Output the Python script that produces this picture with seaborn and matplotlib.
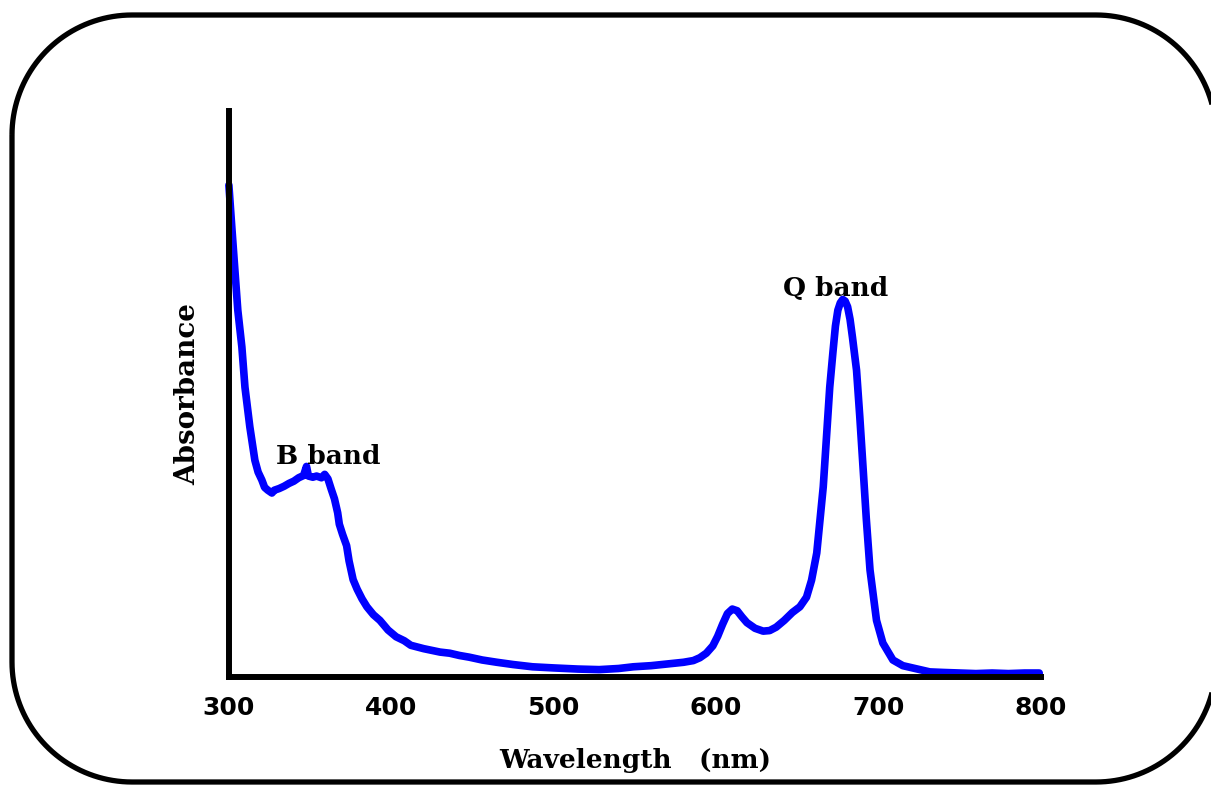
import numpy as np
import seaborn as sns
import matplotlib.pyplot as plt
from matplotlib.ticker import MultipleLocator

# UV-vis spectrum (wavelength in nm, absorbance in arb. units)
wavelength = [300, 301.8, 303.7, 305.5, 308, 309.9, 312.9, 316, 318, 320.3, 322, 324, 326.5,
              328, 331, 334, 337, 340, 343, 346, 347.8, 349, 351.7, 354, 357, 359, 361, 363,
              365, 367, 368, 370, 372.5, 374, 376.5, 379, 382, 385, 389, 393, 398, 403, 408,
              412, 416, 420, 425, 430, 436, 442, 448, 456, 465, 475, 487, 500, 515, 528, 540,
              549, 560, 570, 580, 586, 590, 594, 598, 601, 604, 607, 610, 613, 616, 619, 624,
              629, 633, 637, 642, 647, 651.6, 655.7, 658.8, 662, 666, 668, 670, 672, 673.5,
              675, 676.5, 678, 679.5, 681, 682.5, 684, 686.5, 688.5, 690.6, 692.5, 694.8,
              698.8, 702.7, 708.9, 715, 721, 731.6, 740, 750, 760, 770, 780, 790, 799]
absorbance = [0.869, 0.795, 0.719, 0.648, 0.583, 0.512, 0.442, 0.383, 0.362, 0.348, 0.335,
              0.330, 0.325, 0.330, 0.333, 0.337, 0.342, 0.346, 0.352, 0.356, 0.372, 0.355,
              0.353, 0.355, 0.352, 0.358, 0.350, 0.332, 0.315, 0.290, 0.270, 0.252, 0.232,
              0.205, 0.172, 0.155, 0.138, 0.124, 0.110, 0.100, 0.083, 0.071, 0.064, 0.056,
              0.053, 0.050, 0.047, 0.044, 0.042, 0.038, 0.035, 0.030, 0.026, 0.022, 0.018,
              0.016, 0.014, 0.013, 0.015, 0.018, 0.020, 0.023, 0.026, 0.029, 0.034, 0.042,
              0.055, 0.072, 0.093, 0.112, 0.120, 0.117, 0.106, 0.096, 0.086, 0.081, 0.082,
              0.088, 0.100, 0.114, 0.124, 0.141, 0.171, 0.219, 0.336, 0.424, 0.512, 0.575,
              0.620, 0.648, 0.661, 0.667, 0.664, 0.654, 0.632, 0.600, 0.542, 0.460, 0.366,
              0.280, 0.189, 0.100, 0.060, 0.030, 0.020, 0.016, 0.009, 0.008, 0.007, 0.006,
              0.007, 0.006, 0.007, 0.007]

x_ticks = [300, 400, 500, 600, 700, 800]
band_labels = ["B band", "Q band"]
band_pos = [(329, 0.39), (641, 0.686)]

sns.set_style("white")
plt.rcParams["font.family"] = ["DejaVu Serif"]
plt.rcParams["text.color"] = "black"
plt.rcParams["axes.labelcolor"] = "black"
plt.rcParams["xtick.color"] = "black"
plt.rcParams["savefig.bbox"] = "standard"

fig = plt.figure(figsize=(12.11, 7.85), dpi=100)

# background axes in pixel units for the rounded frame (right edge runs off the image)
bg = fig.add_axes([0, 0, 1, 1], zorder=-1)
bg.set_xlim(0, 1211)
bg.set_ylim(785, 0)
bg.axis("off")
x0, y0, x1, y1, r = 12, 15, 1216, 782, 120
t = np.linspace(0, np.pi / 2, 40)
# only the visible pieces: top edge + both right corners, bottom edge, left edge
top_x = np.concatenate([x0 + r - r * np.cos(t), x1 - r + r * np.sin(t)])
top_y = np.concatenate([y0 + r - r * np.sin(t), y0 + r - r * np.cos(t)])
bot_x = np.concatenate([x1 - r + r * np.cos(t), x0 + r - r * np.sin(t), [x0]])
bot_y = np.concatenate([y1 - r + r * np.sin(t), y1 - r + r * np.cos(t), [y0 + r]])
keep_top = top_x <= 1213
keep_bot = bot_x <= 1213
bg.plot(top_x[keep_top], top_y[keep_top], color="black", linewidth=3.8,
        solid_capstyle="butt")
bg.plot(bot_x[keep_bot], bot_y[keep_bot], color="black", linewidth=3.8,
        solid_capstyle="butt")

ax = fig.add_axes([0.189, 0.1376, 0.6705, 0.721])
ax.patch.set_alpha(0)

sns.lineplot(x=wavelength, y=absorbance, color="#0000ff", linewidth=5.5, ax=ax,
             solid_capstyle="round", solid_joinstyle="round", clip_on=False)

ax.set_xlim(300, 800)
ax.set_ylim(0, 1.0)
ax.set_xticks(x_ticks)
ax.xaxis.set_minor_locator(MultipleLocator(50))
ax.set_xticklabels([str(t) for t in x_ticks], fontfamily="DejaVu Sans",
                   fontweight="bold", fontsize=18)
ax.set_yticks([])

for side in ["top", "right"]:
    ax.spines[side].set_visible(False)
for side in ["left", "bottom"]:
    ax.spines[side].set_color("black")
    ax.spines[side].set_linewidth(4.3)
ax.tick_params(axis="x", which="major", length=8, width=3.5, color="black", pad=6)
ax.tick_params(axis="x", which="minor", length=5, width=3, color="black")

ax.set_xlabel("Wavelength   (nm)", fontsize=19, fontweight="bold", labelpad=20)
ax.set_ylabel("Absorbance", fontsize=20, fontweight="bold", labelpad=20)

for label, (lx, ly) in zip(band_labels, band_pos):
    ax.text(lx, ly, label, fontsize=19, fontweight="bold", ha="left", va="center")

fig.savefig("out.png", dpi=100, bbox_inches=None)
